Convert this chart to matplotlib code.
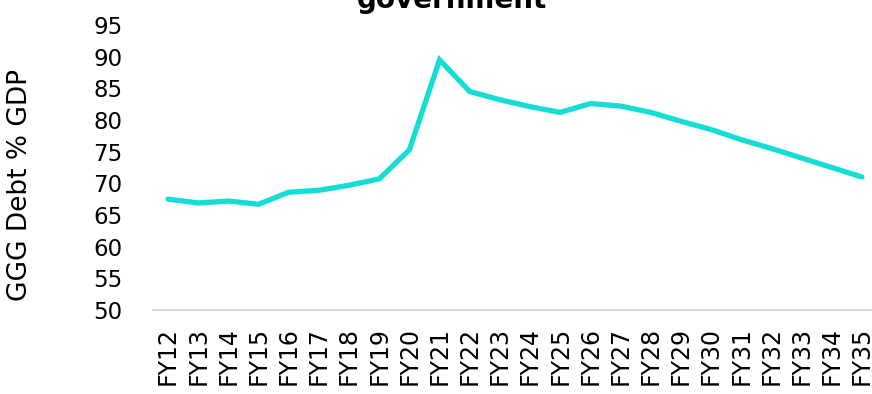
import matplotlib
matplotlib.use("Agg")
import matplotlib.pyplot as plt

plt.rcParams['font.family'] = ['DejaVu Sans']

# General government gross debt, % of GDP, by fiscal year
years = ['FY12', 'FY13', 'FY14', 'FY15', 'FY16', 'FY17', 'FY18', 'FY19',
         'FY20', 'FY21', 'FY22', 'FY23', 'FY24', 'FY25', 'FY26', 'FY27',
         'FY28', 'FY29', 'FY30', 'FY31', 'FY32', 'FY33', 'FY34', 'FY35']
debt = [67.5, 66.9, 67.2, 66.7, 68.6, 68.9, 69.7, 70.7,
        75.3, 89.5, 84.5, 83.2, 82.1, 81.2, 82.6, 82.2,
        81.2, 79.8, 78.5, 76.9, 75.5, 74.0, 72.5, 71.0]
yticks = [50, 55, 60, 65, 70, 75, 80, 85, 90, 95]

fig = plt.figure(figsize=(8.72, 3.94), dpi=100)
ax = fig.add_axes([153 / 872, 84 / 394, 724 / 872, 285 / 394])

x = range(len(years))
ax.plot(x, debt, color='#14DDD3', linewidth=3.8, solid_capstyle='round',
        solid_joinstyle='miter')

ax.set_xlim(-0.5, len(years) - 0.5)
ax.set_ylim(50, 95)
ax.set_yticks(yticks)
ax.set_yticklabels([str(v) for v in yticks], fontsize=16.5)
ax.set_xticks(list(x))
ax.set_xticklabels(years, rotation=90, fontsize=17)
ax.tick_params(axis='x', length=0, pad=12)
ax.tick_params(axis='y', length=0, pad=22)

for side in ['top', 'right', 'left']:
    ax.spines[side].set_visible(False)
ax.spines['bottom'].set_color('#D9D9D9')
ax.spines['bottom'].set_linewidth(1.4)

ax.set_ylabel('GGG Debt % GDP', fontsize=19)
ax.yaxis.set_label_coords(-0.166, 0.44)

fig.text(0.518, 1 - 14 / 394, 'General government debt\ngovernment',
         ha='center', va='bottom', fontsize=20, fontweight='bold',
         linespacing=1.0)

fig.savefig('out.png', dpi=100)
